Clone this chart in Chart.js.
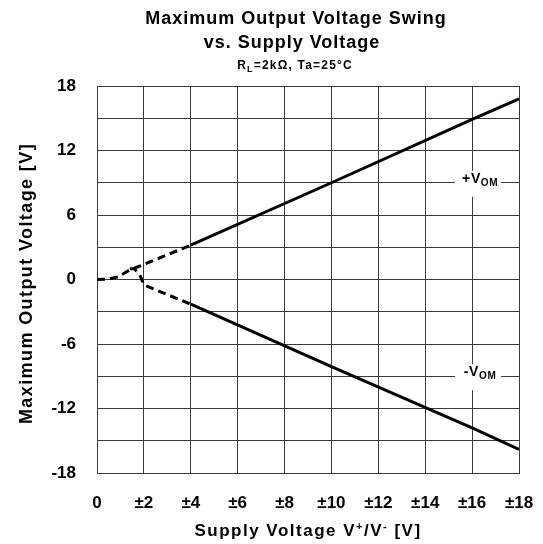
<!DOCTYPE html>
<html>
<head>
<meta charset="utf-8">
<script src="https://cdn.jsdelivr.net/npm/chart.js@4.4.1/dist/chart.umd.min.js"></script>
<style>
  html, body { margin: 0; padding: 0; background: #fff; overflow: hidden; }
  #wrap { width: 543px; height: 544px; }
</style>
</head>
<body>
<div id="wrap"><canvas id="chart"></canvas></div>
<script>
"use strict";

// supply voltage (±V) and the output swing
const posSupply = [0, 0.5, 0.9, 1.4, 2, 4, 10, 16, 18];
const posSwing = [0, 0.05, 0.25, 0.9, 1.4, 3.2, 9.0, 14.9, 16.8];
const negSupply = [1.4, 1.6, 1.85, 2, 4, 10, 16, 18];
const negSwing = [1.0, 1.0, 0.3, -0.5, -2.3, -8.1, -13.8, -15.8];

const xTicks = [0, 2, 4, 6, 8, 10, 12, 14, 16, 18];
const yTicks = [-18, -12, -6, 0, 6, 12, 18];
const dashedBelow = 4;

const FONT = "'Liberation Sans', Arial, sans-serif";
const INK = "#000";
const GRID = "#3a3a3a";

const toPoints = (xs, ys) => xs.map((x, i) => ({ x: x, y: ys[i] }));

const dashSeg = {
    borderDash: (ctx) => ctx.p1.parsed.x <= dashedBelow ? [8, 5] : undefined,
};

// draws a run of [text, size, dy] pieces centred on cx
const drawRun = (c, parts, cx, baseY, spacing) => {
    c.letterSpacing = spacing + "px";
    let tw = 0;
    parts.forEach(p => { c.font = "bold " + p[1] + "px " + FONT; p.w = c.measureText(p[0]).width; tw += p.w; });
    let sx = cx - tw / 2;
    c.textAlign = "left";
    parts.forEach(p => {
        c.font = "bold " + p[1] + "px " + FONT;
        c.fillText(p[0], sx, baseY + p[2]);
        sx += p.w;
    });
    c.letterSpacing = "0px";
};

const textPlugin = {
    id: "textPlugin",
    afterDraw: (chart) => {
        const c = chart.ctx;
        const xs = chart.scales.x;
        const ys = chart.scales.y;
        c.save();
        c.fillStyle = INK;
        c.textBaseline = "alphabetic";

        // title
        drawRun(c, [["Maximum Output Voltage Swing", 18, 0]], 296, 24, 1);
        drawRun(c, [["vs. Supply Voltage", 18, 0]], 292, 48, 1);

        // subtitle with subscript
        drawRun(c, [["R", 12, 0], ["L", 9, 3], ["=2k\u03A9, Ta=25\u00B0C", 12, 0]], 295, 69, 1.2);

        // x axis title with superscripts
        drawRun(c, [["Supply Voltage V", 17, 0], ["+", 11, -6], ["/V", 17, 0], ["-", 11, -6], [" [V]", 17, 0]], 308, 536, 1.5);

        // y axis title
        c.save();
        c.translate(32, (chart.chartArea.top + chart.chartArea.bottom) / 2 + 4);
        c.rotate(-Math.PI / 2);
        drawRun(c, [["Maximum Output Voltage [V]", 18, 0]], 0, 0, 1.4);
        c.restore();

        // curve labels +VOM / -VOM
        const labels = [["+V", 9], ["-V", -9]];
        labels.forEach(l => {
            const cx = xs.getPixelForValue(16);
            const cy = ys.getPixelForValue(l[1]);
            c.fillStyle = "#fff";
            c.fillRect(cx - 17, cy - 12, 46, 26);
            c.fillStyle = INK;
            drawRun(c, [[l[0], 14, 0], ["OM", 10, 3]], cx + 8, cy, 0.6);
        });
        c.restore();
    },
};

new Chart(document.getElementById("chart"), {
    type: "line",
    data: {
        datasets: [
            {
                label: "+VOM",
                data: toPoints(posSupply, posSwing),
                borderColor: INK,
                borderWidth: 3,
                pointRadius: 0,
                tension: 0,
                segment: dashSeg,
            },
            {
                label: "-VOM",
                data: toPoints(negSupply, negSwing),
                borderColor: INK,
                borderWidth: 3,
                pointRadius: 0,
                tension: 0,
                segment: dashSeg,
            },
        ],
    },
    options: {
        responsive: true,
        maintainAspectRatio: false,
        animation: false,
        layout: { padding: { top: 86, right: 24, left: 0, bottom: 0 } },
        plugins: {
            legend: { display: false },
            tooltip: { enabled: false },
            title: { display: false },
        },
        scales: {
            x: {
                type: "linear",
                min: 0,
                max: 18,
                afterBuildTicks: (scale) => { scale.ticks = xTicks.map(v => ({ value: v })); },
                afterFit: (scale) => {
                    scale.height = 71;
                    scale.paddingLeft = 0;
                    scale.paddingRight = 0;
                },
                grid: { color: GRID, lineWidth: 1, drawTicks: false },
                border: { color: GRID, width: 1 },
                ticks: {
                    padding: 20,
                    color: INK,
                    font: { family: FONT, size: 17, weight: "bold" },
                    maxRotation: 0,
                    callback: (v) => v === 0 ? "0" : "\u00B1" + v,
                },
            },
            y: {
                type: "linear",
                min: -18,
                max: 18,
                afterBuildTicks: (scale) => {
                    const t = [];
                    for (let v = -18; v <= 18; v += 3) t.push({ value: v });
                    scale.ticks = t;
                },
                afterFit: (scale) => {
                    scale.width = 97;
                    scale.paddingTop = 0;
                    scale.paddingBottom = 0;
                },
                grid: { color: GRID, lineWidth: 1, drawTicks: false },
                border: { color: GRID, width: 1 },
                ticks: {
                    padding: 21,
                    color: INK,
                    font: { family: FONT, size: 17, weight: "bold" },
                    callback: (v) => yTicks.includes(v) ? String(v) : "",
                },
            },
        },
    },
    plugins: [textPlugin],
});
</script>
</body>
</html>
